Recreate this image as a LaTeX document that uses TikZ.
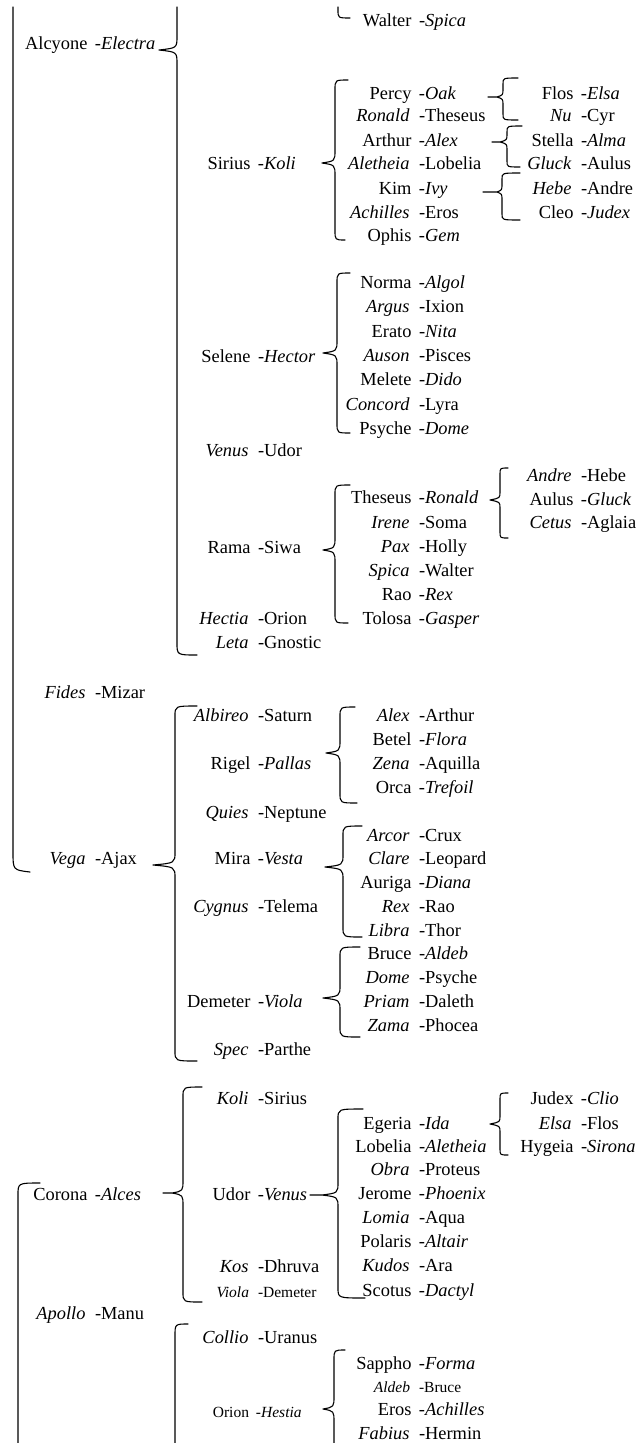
\documentclass[tikz,border=0pt]{standalone}
\usepackage{fontspec}
\setmainfont{Liberation Serif}
\newcommand\fsA{\fontsize{18.4}{22}\selectfont}
\newcommand\fsB{\fontsize{15.5}{18}\selectfont}
\tikzset{
  lbl/.style={anchor=base west,inner sep=0pt,outer sep=0pt,font=\fsA},
  lbls/.style={lbl,font=\fsB},
  br/.style={line width=1.1pt,line cap=round,line join=round}
}
\newcommand\rowPI[5]{\node[lbl] (#1) at ({#2},{#3+6}) {\llap{#4\hspace{7.5pt}}-\textit{#5}};}
\newcommand\rowIP[5]{\node[lbl] (#1) at ({#2},{#3+6}) {\llap{\textit{#4}\hspace{9.5pt}}-#5};}
\newcommand\rowPP[5]{\node[lbl] (#1) at ({#2},{#3+6}) {\llap{#4\hspace{7.5pt}}-#5};}
\def\bh{10}\def\bt{13}
% #1 xv, #2 xe top, #3 yt, #4 xt tip, #5 ym, #6 xe bottom, #7 yb, #8 xs stub
\newcommand\brc[8]{\draw[br] ({#2},{#3}) .. controls ({#1},{#3}) .. ({#1},{#3+\bh}) -- ({#1},{#5-\bt}) .. controls ({#1},{#5-2}) .. ({#4},{#5}) -- ({#8},{#5}) -- ({#4},{#5}) .. controls ({#1},{#5+2}) .. ({#1},{#5+\bt}) -- ({#1},{#7-\bh}) .. controls ({#1},{#7}) .. ({#6},{#7});}
\begin{document}
\begin{tikzpicture}[x=1pt,y=-1pt]
\useasboundingbox[fill=white] (0,0) rectangle (639,1443);
\begin{scope}
\clip (0,0) rectangle (639,1443);
% ---------- level 1
\rowPI{alc}{95}{43}{Alcyone}{Electra}
\rowIP{fid}{95}{692}{Fides}{Mizar}
\rowIP{veg}{95}{858}{Vega}{Ajax}
\rowPI{cor}{95}{1194}{Corona}{Alces}
\rowIP{apo}{95}{1313}{Apollo}{Manu}
% ---------- level 2
\rowPI{sir}{258}{163}{Sirius}{Koli}
\rowPI{sel}{258}{356}{Selene}{Hector}
\rowIP{ven}{258}{450}{Venus}{Udor}
\rowPP{ram}{258}{547}{Rama}{Siwa}
\rowIP{hec}{258}{618}{Hectia}{Orion}
\rowIP{let}{258}{642}{Leta}{Gnostic}
\rowIP{alb}{258}{715}{Albireo}{Saturn}
\rowPI{rig}{258}{763}{Rigel}{Pallas}
\rowIP{qui}{258}{812}{Quies}{Neptune}
\rowPI{mir}{258}{858}{Mira}{Vesta}
\rowIP{cyg}{258}{906}{Cygnus}{Telema}
\rowPI{dem}{258}{1001}{Demeter}{Viola}
\rowIP{spe}{258}{1049}{Spec}{Parthe}
\rowIP{kol}{258}{1098}{Koli}{Sirius}
\rowPI{udo}{258}{1194}{Udor}{Venus}
\rowIP{kos}{258}{1266}{Kos}{Dhruva}
\node[lbls] (vio) at (258,1297) {\llap{\textit{Viola}\hspace{9pt}}-Demeter};
\rowIP{col}{258}{1337}{Collio}{Uranus}
\node[lbls] (ori) at (256,1417) {\llap{Orion\hspace{7pt}}-\textit{Hestia}};
% ---------- level 3
\rowPI{wal}{419}{20}{Walter}{Spica}
\rowPI{percy}{419}{93}{Percy}{Oak}
\rowIP{ronald}{419}{115}{Ronald}{Theseus}
\rowPI{arthur}{419}{140}{Arthur}{Alex}
\rowIP{alet}{419}{163}{Aletheia}{Lobelia}
\rowPI{kim}{419}{188}{Kim}{Ivy}
\rowIP{achi}{419}{212}{Achilles}{Eros}
\rowPI{ophis}{419}{235}{Ophis}{Gem}
\rowPI{norma}{419}{282}{Norma}{Algol}
\rowIP{argus}{419}{306}{Argus}{Ixion}
\rowPI{erato}{419}{331}{Erato}{Nita}
\rowIP{auson}{419}{355}{Auson}{Pisces}
\rowPI{melete}{419}{379}{Melete}{Dido}
\rowIP{concord}{419}{404}{Concord}{Lyra}
\rowPI{psyche}{419}{428}{Psyche}{Dome}
\rowPI{theseus}{419}{497}{Theseus}{Ronald}
\rowIP{irene}{419}{522}{Irene}{Soma}
\rowIP{pax}{419}{546}{Pax}{Holly}
\rowIP{spica}{419}{570}{Spica}{Walter}
\rowPI{rao}{419}{594}{Rao}{Rex}
\rowPI{tolosa}{419}{618}{Tolosa}{Gasper}
\rowIP{alex}{419}{715}{Alex}{Arthur}
\rowPI{betel}{419}{739}{Betel}{Flora}
\rowIP{zena}{419}{763}{Zena}{Aquilla}
\rowPI{orca}{419}{787}{Orca}{Trefoil}
\rowIP{arcor}{419}{835}{Arcor}{Crux}
\rowIP{clare}{419}{858}{Clare}{Leopard}
\rowPI{auriga}{419}{882}{Auriga}{Diana}
\rowIP{rex}{419}{906}{Rex}{Rao}
\rowIP{libra}{419}{930}{Libra}{Thor}
\rowPI{bruce}{419}{953}{Bruce}{Aldeb}
\rowIP{dome}{419}{977}{Dome}{Psyche}
\rowIP{priam}{419}{1001}{Priam}{Daleth}
\rowIP{zama}{419}{1025}{Zama}{Phocea}
\rowPI{egeria}{419}{1123}{Egeria}{Ida}
\rowPI{lobelia}{419}{1146}{Lobelia}{Aletheia}
\rowIP{obra}{419}{1169}{Obra}{Proteus}
\rowPI{jerome}{419}{1193}{Jerome}{Phoenix}
\rowIP{lomia}{419}{1217}{Lomia}{Aqua}
\rowPI{polaris}{419}{1241}{Polaris}{Altair}
\rowIP{kudos}{419}{1265}{Kudos}{Ara}
\rowPI{scotus}{419}{1290}{Scotus}{Dactyl}
\rowPI{sappho}{419}{1363}{Sappho}{Forma}
\node[lbls] (aldeb) at (419,1392) {\llap{\textit{Aldeb}\hspace{9pt}}-Bruce};
\rowPI{eros}{419}{1409}{Eros}{Achilles}
\rowIP{fabius}{419}{1433}{Fabius}{Hermin}
% ---------- level 4
\rowPI{flos}{581}{93}{Flos}{Elsa}
\rowIP{nu}{581}{115}{Nu}{Cyr}
\rowPI{stella}{581}{140}{Stella}{Alma}
\rowIP{gluck}{581}{163}{Gluck}{Aulus}
\rowIP{hebe}{581}{188}{Hebe}{Andre}
\rowPI{cleo}{581}{212}{Cleo}{Judex}
\rowIP{andre}{581}{475}{Andre}{Hebe}
\rowPI{aulus}{581}{499}{Aulus}{Gluck}
\rowIP{cetus}{581}{522}{Cetus}{Aglaia}
\rowPI{judex}{581}{1098}{Judex}{Clio}
\rowIP{elsa}{581}{1123}{Elsa}{Flos}
\rowPI{hygeia}{581}{1146}{Hygeia}{Sirona}
% ---------- braces
% cropped outer braces
\draw[br] (13,7) -- (13,852) .. controls (13,870) .. (30,872);
\draw[br] (177,7) -- (177,36) .. controls (177,48) .. (159,50) .. controls (177,52) .. (177,64) -- (177,643) .. controls (177,655) .. (197,655);
\draw[br] (338,7) -- (338,10) .. controls (338,18) .. (350,18);
\draw[br] (40,1183) .. controls (18,1183) .. (18,1195) -- (18,1450);
\draw[br] (188,1324) .. controls (175,1324) .. (175,1336) -- (175,1450);
\draw[br] (345,1350) .. controls (334,1350) .. (334,1360) -- (334,1396) .. controls (334,1407) .. (323,1409) .. controls (334,1411) .. (334,1422) -- (334,1450);
% full braces
\brc{335}{348}{80}{322}{163}{345}{240}{322}
\brc{337}{350}{273}{323}{353}{350}{433}{323}
\brc{335}{350}{485}{323}{550}{348}{623}{323}
\brc{340}{355}{707}{326}{753}{357}{803}{326}
\brc{343}{362}{826}{325}{867}{362}{937}{325}
\brc{340}{360}{947}{323}{998}{360}{1037}{323}
\brc{175}{197}{706}{153}{865}{197}{1061}{153}
\brc{338}{363}{1109}{322}{1195}{365}{1298}{310}
\brc{183}{202}{1087}{172}{1193}{202}{1302}{163}
\def\bh{6}\def\bt{8}
\brc{503}{518}{78}{497}{97}{518}{120}{488}
\brc{507}{522}{126}{500}{142}{520}{167}{492}
\brc{502}{520}{173}{497}{192}{520}{220}{483}
\brc{500}{508}{468}{490}{500}{508}{538}{490}
\brc{500}{508}{1093}{490}{1124}{508}{1155}{490}
\end{scope}
\end{tikzpicture}
\end{document}
